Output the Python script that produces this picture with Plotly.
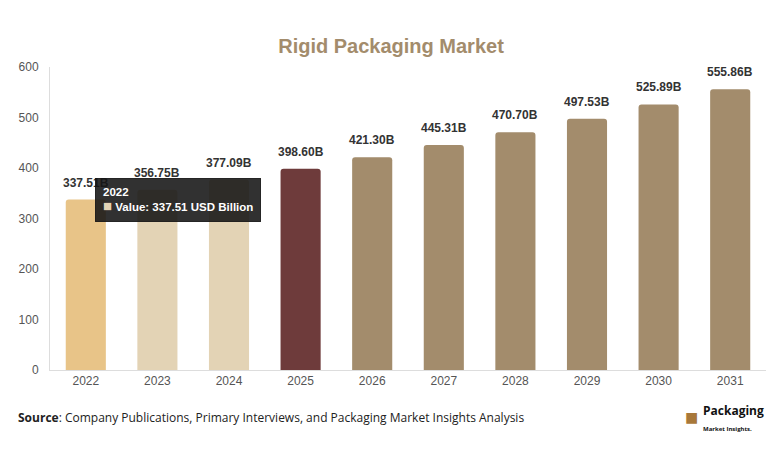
import plotly.graph_objects as go

years = ["2022", "2023", "2024", "2025", "2026", "2027", "2028", "2029", "2030", "2031"]
values = [337.51, 356.75, 377.09, 398.60, 421.30, 445.31, 470.70, 497.53, 525.89, 555.86]
bar_colors = ["#E8C488", "#E3D3B5", "#E3D3B5", "#6E3B3B",
              "#A38C6C", "#A38C6C", "#A38C6C", "#A38C6C", "#A38C6C", "#A38C6C"]
labels = [f"{v:.2f}B" for v in values]

fig = go.Figure()
fig.add_trace(go.Bar(
    x=years, y=values, marker=dict(color=bar_colors, line=dict(width=0),
                                   cornerradius=3),
    width=0.56, hoverinfo="skip",
))

# value labels above bars (x = category index)
for i, (v, lab) in enumerate(zip(values, labels)):
    fig.add_annotation(x=i, y=v, xref="x", yref="y", text="<b>" + lab + "</b>",
                       showarrow=False, yanchor="bottom", yshift=8,
                       font=dict(family="Arial", size=12, color="#333333"))

fig.update_layout(
    width=782, height=457,
    margin=dict(l=50, r=16, t=67, b=87),
    paper_bgcolor="white", plot_bgcolor="white",
    showlegend=False,
    title=dict(text="<b>Rigid Packaging Market</b>", x=0.5, xanchor="center",
               y=0.9, yanchor="middle", yref="container",
               font=dict(family="Arial", size=20, color="#A38C6C")),
    xaxis=dict(type="category", showline=True, linecolor="#DDDDDD", linewidth=1, ticks="",
               tickfont=dict(family="Arial", size=12, color="#555555"),
               showgrid=False, fixedrange=True),
    yaxis=dict(range=[0, 600], dtick=100, showline=True, linecolor="#DDDDDD",
               linewidth=1, showgrid=False, zeroline=False, ticks="",
               tickfont=dict(family="Arial", size=12, color="#555555"),
               ticklabelstandoff=8),
)

# tooltip (hover state shown in reference); x given as category index 0 (= years[0])
fig.add_annotation(
    x=0, y=values[0], xref="x", yref="y",
    text="<b>" + years[0] + "</b><br><span style='color:#E3D3B5;font-size:15px'>■</span> <b>Value: 337.51 USD Billion</b>",
    showarrow=False, xanchor="left", yanchor="middle", xshift=9, yshift=0,
    align="left", bgcolor="rgba(20,20,20,0.88)", bordercolor="rgba(20,20,20,0.88)",
    borderpad=7, font=dict(family="Arial", size=11.5, color="white"),
)

fig.add_annotation(
    x=0.0, y=-0.158, xref="paper", yref="paper", xanchor="left", yanchor="middle",
    xshift=-34, showarrow=False,
    text="<b>Source</b>: Company Publications, Primary Interviews, and Packaging Market Insights Analysis",
    font=dict(family="Open Sans", size=12, color="#222222"),
)
fig.add_annotation(
    x=1.0, y=-0.158, xref="paper", yref="paper", xanchor="right", yanchor="middle",
    showarrow=False,
    text="<b>Packaging</b><br><span style='font-size:6px'><b>Market Insights.</b></span>",
    align="left", font=dict(family="Open Sans", size=12, color="#111111"),
)
fig.add_annotation(
    x=1.0, y=-0.158, xref="paper", yref="paper", xanchor="right", yanchor="middle",
    xshift=-66, showarrow=False, text="■",
    font=dict(family="Arial", size=22, color="#A8783A"),
)

fig.write_html("out.html")
